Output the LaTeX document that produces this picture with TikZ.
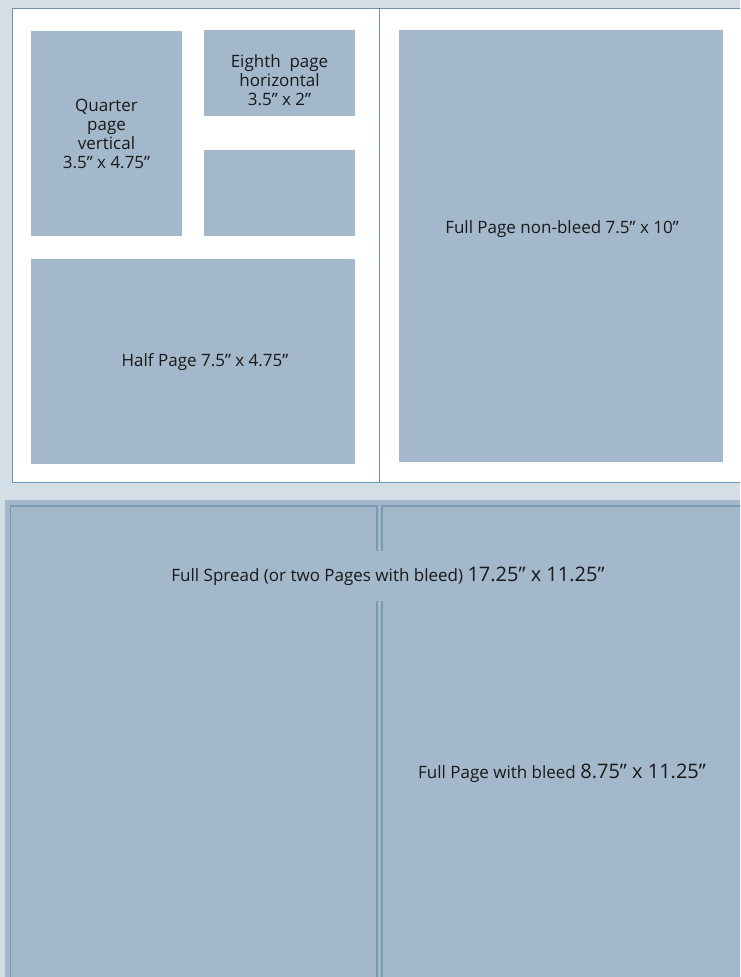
\documentclass[tikz,border=0pt]{standalone}
\usepackage{fontspec}
\setmainfont{Open Sans}
\usepackage{xcolor}
\definecolor{bgblue}{HTML}{D4DEE7}
\definecolor{adblue}{HTML}{A3B8CB}
\definecolor{rule}{HTML}{6E93AE}
\definecolor{ruledark}{HTML}{7A9AB3}
\newcommand{\bigsize}{\fontsize{20}{22}\selectfont}

\begin{document}
\begin{tikzpicture}[x=1pt,y=-1pt,
  adlabel/.style={align=center,font=\fontsize{17}{19}\selectfont,text=black!90}]
\clip (0,0) rectangle (740,977);
\fill[bgblue] (0,0) rectangle (740,977);
% top sheet: two facing pages
\fill[white] (12.5,8.5) rectangle (750,482.5);
\draw[rule,line width=1pt] (12.5,482.5) -- (12.5,8.5) -- (750,8.5);
\draw[rule,line width=0.8pt] (12.5,482.5) -- (750,482.5);
\draw[rule,line width=1pt] (379,8.5) -- (379,482.5);
\fill[adblue] (31,31) rectangle (182,235.5);
\node[adlabel] (quarter) at (106.5,134) {Quarter\\page\\vertical\\3.5” x 4.75”};
\fill[adblue] (204,30) rectangle (355,115.5);
\node[adlabel] (eighth) at (279.5,80) {Eighth~~page\\horizontal\\3.5” x 2”};
\fill[adblue] (204,150) rectangle (355,235.5);
\fill[adblue] (31,259) rectangle (355,463.5);
\node[adlabel] (half) at (205,362) {Half Page 7.5” x 4.75”};
\fill[adblue] (399,30) rectangle (723,461.5);
\node[adlabel] (fullpage) at (562,229) {Full Page non-bleed 7.5” x 10”};
% bottom sheet: spread with bleed
\fill[adblue] (5,500) rectangle (750,990);
\draw[ruledark,line width=1.6pt] (10.5,990) -- (10.5,506) -- (377,506) -- (377,990);
\draw[ruledark,line width=1.6pt] (382,990) -- (382,506) -- (750,506);
\node[adlabel,fill=adblue,minimum height=50pt,inner xsep=3pt] (spread) at (388,576)
  {Full Spread (or two Pages with bleed) {\bigsize 17.25” x 11.25”}};
\node[adlabel] (bleed) at (562,773) {Full Page with bleed {\bigsize 8.75” x 11.25”}};
\end{tikzpicture}
\end{document}
